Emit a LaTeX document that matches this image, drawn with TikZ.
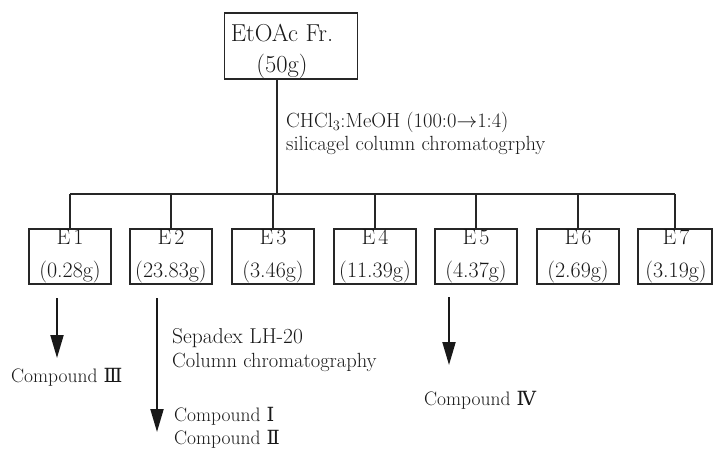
\documentclass[tikz,border=0pt]{standalone}
\usepackage{fontspec}
\newfontfamily\romf{DejaVu Serif}
\usetikzlibrary{arrows.meta}
\newcommand{\rnum}[1]{\hspace{6pt}{\romf #1}}
\begin{document}
\begin{tikzpicture}[x=1pt,y=-1pt,
  ln/.style={draw=black!85, line width=1.3pt},
  ebox/.style={ln, rectangle, minimum width=82pt, minimum height=55pt, inner sep=0pt},
  topbox/.style={ln, rectangle, minimum width=133pt, minimum height=66pt, inner sep=0pt},
  etxt/.style={font=\fontsize{22}{24}\selectfont, text=black!90, anchor=base, inner sep=0pt},
  toptxt/.style={font=\fontsize{24.5}{26}\selectfont, text=black!90, anchor=base, inner sep=0pt},
  lbl/.style={font=\fontsize{20.5}{22}\selectfont, text=black!90, anchor=base west, inner sep=0pt},
  cmp/.style={font=\fontsize{19.5}{21}\selectfont, text=black!90, anchor=base west, inner sep=0pt},
  arr/.style={draw=black!90, line width=2pt, -{Triangle[length=23pt,width=13pt]}}
]
\useasboundingbox (0,0) rectangle (714,451);

% top box
\node[topbox] (top) at (291,46) {};
\node[toptxt] (topa) at (282,41) {EtOAc Fr.};
\node[toptxt] (topb) at (282,72) {(50g)};

% fraction boxes
\node[ebox] (e1) at (70,256.5) {};
\node[ebox] (e2) at (171,256.5) {};
\node[ebox] (e3) at (273,256.5) {};
\node[ebox] (e4) at (375,256.5) {};
\node[ebox] (e5) at (476,256.5) {};
\node[ebox] (e6) at (578,256.5) {};
\node[ebox, minimum width=74pt] (e7) at (675,256.5) {};

\node[etxt] (e1a) at (70,244) {E\kern3pt 1};
\node[etxt] (e1b) at (70,277) {(0.28g)};
\node[etxt] (e2a) at (171,244) {E\kern3pt 2};
\node[etxt] (e2b) at (171,277) {(23.83g)};
\node[etxt] (e3a) at (273,244) {E\kern3pt 3};
\node[etxt] (e3b) at (273,277) {(3.46g)};
\node[etxt] (e4a) at (375,244) {E\kern3pt 4};
\node[etxt] (e4b) at (375,277) {(11.39g)};
\node[etxt] (e5a) at (476,244) {E\kern3pt 5};
\node[etxt] (e5b) at (476,277) {(4.37g)};
\node[etxt] (e6a) at (578,244) {E\kern3pt 6};
\node[etxt] (e6b) at (578,277) {(2.69g)};
\node[etxt] (e7a) at (676,244) {E\kern3pt 7};
\node[etxt] (e7b) at (676,277) {(3.19g)};

% tree connectors
\coordinate (stem) at (277,194);
\draw[ln] (top.south -| stem) -- (stem);
\draw[ln] (e1.north |- stem) -- (e7.north |- stem);
\foreach \i in {1,...,7} {
  \draw[ln] (e\i.north |- stem) -- (e\i.north);
}

% column label
\node[lbl] (cond1) at (286,127) {CHCl$_3$:MeOH (100:0$\rightarrow$1:4)};
\node[lbl] (cond2) at (286,150) {silicagel column chromatogrphy};

% E1 branch
\coordinate (a1s) at (57,298);
\coordinate (a1e) at (57,358);
\draw[arr] (a1s) -- (a1e);
\node[cmp] (c3) at (11,382) {Compound\rnum{Ⅲ}};

% E2 branch
\coordinate (a2s) at (157,298);
\coordinate (a2e) at (157,432);
\draw[arr] (a2s) -- (a2e);
\node[lbl, font=\fontsize{21.5}{23}\selectfont] (sep1) at (172,343) {Sepadex LH-20};
\node[lbl] (sep2) at (172,367) {Column chromatography};
\node[cmp] (c1) at (174,421) {Compound\rnum{Ⅰ}};
\node[cmp] (c2) at (174,444) {Compound\rnum{Ⅱ}};

% E5 branch
\coordinate (a5s) at (449,297);
\coordinate (a5e) at (449,365);
\draw[arr] (a5s) -- (a5e);
\node[cmp] (c4) at (424,405) {Compound\rnum{Ⅳ}};
\end{tikzpicture}
\end{document}
